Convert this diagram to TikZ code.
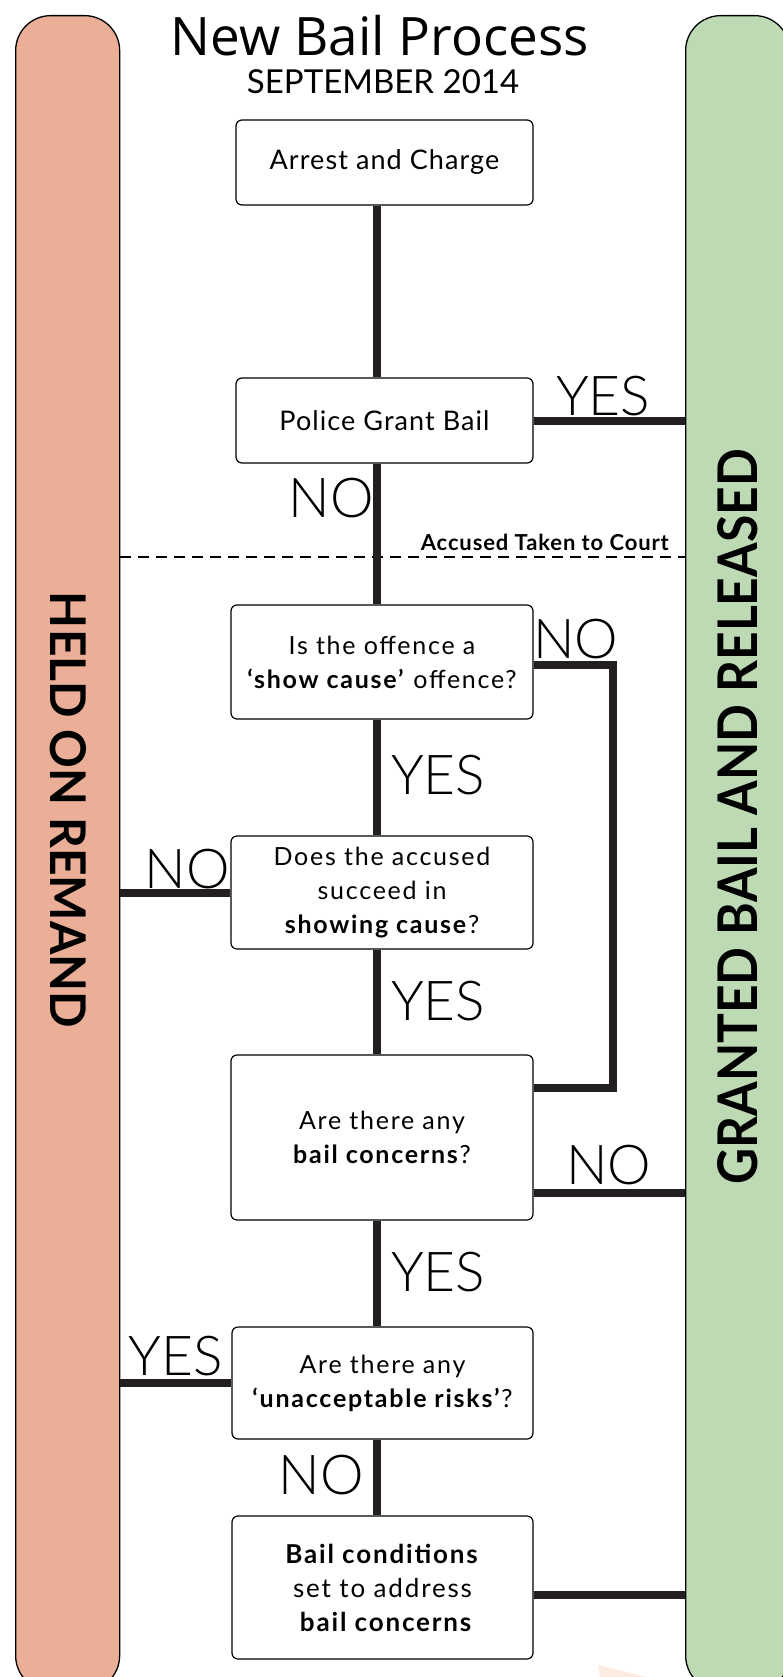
\documentclass[tikz,border=0pt]{standalone}
\usepackage{fontspec}
\usepackage{graphicx}
\setmainfont{Lato}
\newfontfamily\titlefont{Open Sans}
\newfontfamily\boxfontA{Lato}[LetterSpace=4]
\newfontfamily\boxfont{Lato}[LetterSpace=7]
\newfontfamily\thinfont{Lato Light}
\definecolor{remand}{RGB}{235,175,152}
\definecolor{release}{RGB}{190,218,180}
\definecolor{ink}{RGB}{35,31,32}
\definecolor{wmark}{RGB}{253,236,226}
\begin{document}
\begin{tikzpicture}[x=1pt,y=-1pt,
  bar/.style={draw=black, line width=1.3pt, rounded corners=35pt, minimum width=104pt, minimum height=1675pt, anchor=north west, inner sep=0pt},
  box/.style={draw=black, line width=1.2pt, rounded corners=6pt, fill=white, align=center, font=\boxfont\fontsize{25}{34}\selectfont, inner sep=0pt},
  bigbox/.style={box, font=\boxfontA\fontsize{27}{34}\selectfont},
  endbox/.style={box, font=\boxfont\fontsize{26}{34}\selectfont},
  link/.style={draw=ink, line width=8pt, line join=miter},
  ans/.style={font=\thinfont\fontsize{55}{55}\selectfont, inner sep=0pt}]
\useasboundingbox (0,0) rectangle (782,1677);
\fill[wmark] (598,1665) -- (646,1677) -- (600,1677) -- cycle;
% side bars
\node[bar, fill=remand] (remand) at (15,15) {};
\node[bar, fill=release] (release) at (685,15) {};
\node[rotate=-90, inner sep=0pt] (heldtxt) at (68,810) {\resizebox{436pt}{36pt}{\bfseries HELD ON REMAND}};
\node[rotate=90, inner sep=0pt] (granttxt) at (738,817) {\resizebox{735pt}{40pt}{\bfseries GRANTED BAIL AND RELEASED}};
% title
\node[inner sep=0pt, anchor=base, font=\titlefont\fontsize{53}{53}\selectfont] (title) at (380,56) {New Bail Process};
\node[inner sep=0pt, anchor=base, font=\fontsize{33}{33}\selectfont] (date) at (383,94) {SEPTEMBER 2014};
% court line
\coordinate (court) at (0,557);
\draw[line width=1.3pt, dash pattern=on 11pt off 7pt] (remand.east |- court) -- (release.west |- court);
\node[inner sep=0pt, anchor=base east, font=\boxfontA\bfseries\fontsize{22}{22}\selectfont] (courttxt) at (669,550) {Accused Taken to Court};
% boxes (positions)
\coordinate (b1c) at (384.5,162.5);
\coordinate (b2c) at (384.5,420.5);
\coordinate (b3c) at (382,662);
\coordinate (b4c) at (382,892.5);
\coordinate (b5c) at (382,1137.5);
\coordinate (b6c) at (382.5,1383);
\coordinate (b7c) at (382.5,1587.5);
\coordinate (sp) at (377,0);
\coordinate (rt) at (613,0);
\coordinate (y3) at (0,665);
\coordinate (y5a) at (0,1088);
\coordinate (y5b) at (0,1193);
\coordinate (y7) at (0,1595);
\node[bigbox, minimum width=297pt, minimum height=85pt] (b1) at (b1c) {Arrest and Charge};
\node[bigbox, minimum width=297pt, minimum height=85pt] (b2) at (b2c) {Police Grant Bail};
\node[box, minimum width=302pt, minimum height=114pt] (b3) at (b3c) {Is the offence a\\\textbf{‘show cause’} offence?};
\node[box, minimum width=302pt, minimum height=113pt] (b4) at (b4c) {Does the accused\\succeed in\\\textbf{showing cause}?};
\node[box, minimum width=302pt, minimum height=165pt] (b5) at (b5c) {Are there any\\\textbf{bail concerns}?};
\node[box, minimum width=301pt, minimum height=112pt] (b6) at (b6c) {Are there any\\\textbf{‘unacceptable risks’}?};
\node[endbox, minimum width=301pt, minimum height=143pt] (b7) at (b7c) {\textbf{Bail conditions}\\set to address\\\hspace*{8pt}\textbf{bail concerns}};
% connectors
\draw[link] (b1.south -| sp) -- (b2.north -| sp);
\draw[link] (b2.east) -- (b2.east -| release.west);
\draw[link] (b2.south -| sp) -- (b3.north -| sp);
\draw[link] (b3.east |- y3) -- (rt |- y3) -- (rt |- y5a) -- (b5.east |- y5a);
\draw[link] (b3.south -| sp) -- (b4.north -| sp);
\draw[link] (b4.west) -- (b4.west -| remand.east);
\draw[link] (b4.south -| sp) -- (b5.north -| sp);
\draw[link] (b5.east |- y5b) -- (release.west |- y5b);
\draw[link] (b5.south -| sp) -- (b6.north -| sp);
\draw[link] (b6.west) -- (b6.west -| remand.east);
\draw[link] (b6.south -| sp) -- (b7.north -| sp);
\draw[link] (b7.east |- y7) -- (release.west |- y7);
% answer labels
\node[ans, anchor=base west] (yes1) at (556,415) {YES};
\node[ans, anchor=base east] (no1) at (374,517) {NO};
\node[ans, anchor=base west] (no2) at (533,658) {NO};
\node[ans, anchor=base west] (yes2) at (391,794) {YES};
\node[ans, anchor=base east] (no3) at (230,888) {NO};
\node[ans, anchor=base west] (yes3) at (391,1020) {YES};
\node[ans, anchor=base west] (no4) at (566,1184) {NO};
\node[ans, anchor=base west] (yes4) at (391,1291) {YES};
\node[ans, anchor=base east] (yes5) at (223,1375) {YES};
\node[ans, anchor=base east] (no5) at (364,1494) {NO};
\end{tikzpicture}
\end{document}
